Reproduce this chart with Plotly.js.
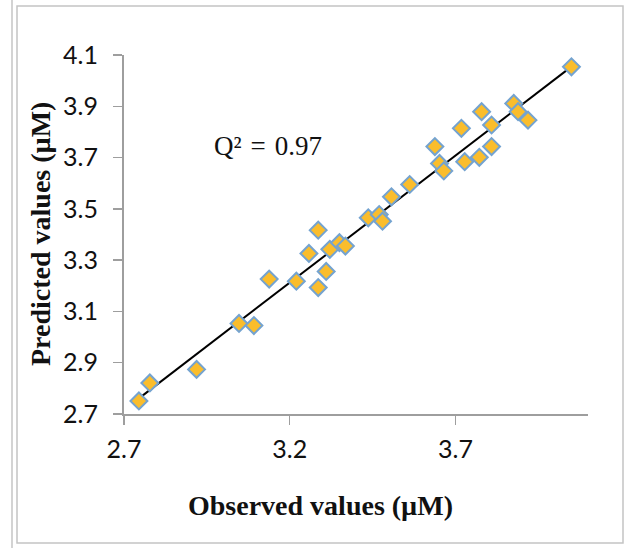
<!DOCTYPE html>
<html><head><meta charset="utf-8">
<script src="https://cdn.plot.ly/plotly-3.0.1.min.js"></script>
<style>html,body{margin:0;padding:0;background:#fff}</style>
</head><body><div id="chart" style="width:627px;height:548px"></div>
<script>
// Observed vs predicted values (µM)
const observed  = [2.745, 2.778, 2.919, 3.047, 3.092, 3.138, 3.220, 3.286, 3.310, 3.258, 3.286,
                   3.321, 3.350, 3.368, 3.437, 3.470, 3.480, 3.507, 3.562, 3.638, 3.652, 3.665,
                   3.718, 3.728, 3.772, 3.779, 3.809, 3.809, 3.876, 3.889, 3.919, 4.050];
const predicted = [2.751, 2.821, 2.874, 3.053, 3.045, 3.226, 3.218, 3.193, 3.256, 3.326, 3.417,
                   3.342, 3.368, 3.355, 3.465, 3.478, 3.452, 3.547, 3.595, 3.743, 3.677, 3.648,
                   3.814, 3.684, 3.701, 3.879, 3.827, 3.743, 3.911, 3.879, 3.846, 4.054];
const xTickVals = [2.7, 3.2, 3.7];
const xTickText = ['2.7', '3.2', '3.7'];
const yTickVals = [2.7, 2.9, 3.1, 3.3, 3.5, 3.7, 3.9, 4.1];
const yTickText = ['2.7', '2.9', '3.1', '3.3', '3.5', '3.7', '3.9', '4.1'];
const statText = 'Q\u00B2\u2004=\u20040.97';
const xTitle = 'Observed values (µM)';
const yTitle = 'Predicted values (µM)';

// linear trendline (least squares) over the observed range
const n = observed.length;
const mx = observed.reduce((a, b) => a + b, 0) / n;
const my = predicted.reduce((a, b) => a + b, 0) / n;
let sxy = 0, sxx = 0;
for (let i = 0; i < n; i++) { sxy += (observed[i] - mx) * (predicted[i] - my); sxx += (observed[i] - mx) ** 2; }
const slope = sxy / sxx, intercept = my - slope * mx;
const xMin = Math.min(...observed), xMax = Math.max(...observed);
const trendX = [xMin, xMax];
const trendY = trendX.map(v => intercept + slope * v);

const axisColor = '#9e9e9e';
const tickFont = {family: 'Lato, "Liberation Sans", sans-serif', size: 25, color: '#111'};
const titleFont = {family: '"Liberation Serif", "Times New Roman", serif', size: 28, color: '#111'};

const traces = [
  {x: trendX, y: trendY, type: 'scatter', mode: 'lines',
   line: {color: '#000', width: 2}, hoverinfo: 'skip', showlegend: false},
  {x: observed, y: predicted, type: 'scatter', mode: 'markers',
   marker: {symbol: 'diamond', size: 13, color: '#FABD2C', line: {color: '#74A3D0', width: 2}},
   showlegend: false}
];

const layout = {
  width: 627, height: 548,
  margin: {l: 124, r: 39, t: 55, b: 134},
  paper_bgcolor: '#fff', plot_bgcolor: '#fff',
  showlegend: false,
  xaxis: {range: [2.7, 4.1], tickvals: xTickVals, ticktext: xTickText,
          showgrid: false, zeroline: false, showline: true, linecolor: axisColor, linewidth: 2,
          ticks: 'outside', ticklen: 9, tickwidth: 1.5, tickcolor: axisColor,
          tickfont: tickFont, ticklabelstandoff: 3},
  yaxis: {range: [2.7, 4.1], tickvals: yTickVals, ticktext: yTickText,
          showgrid: false, zeroline: false, showline: true, linecolor: axisColor, linewidth: 2,
          ticks: 'outside', ticklen: 9, tickwidth: 1.5, tickcolor: axisColor,
          tickfont: tickFont, ticklabelstandoff: 10},
  annotations: [
    {xref: 'paper', yref: 'paper', x: (320 - 124) / 464, y: (414 - 505) / 359,
     text: '<b>' + xTitle + '</b>', showarrow: false, font: titleFont,
     xanchor: 'center', yanchor: 'middle'},
    {xref: 'paper', yref: 'paper', x: (40 - 124) / 464, y: (414 - 234) / 359,
     text: '<b>' + yTitle + '</b>', showarrow: false, font: titleFont, textangle: -90,
     xanchor: 'center', yanchor: 'middle'},
    {xref: 'x', yref: 'y', x: 3.134, y: 3.745, text: statText, showarrow: false,
     font: {family: '"Liberation Serif", "Times New Roman", serif', size: 27, color: '#111'},
     xanchor: 'center', yanchor: 'middle'}
  ],
  shapes: [
    {type: 'line', xref: 'paper', yref: 'paper', x0: (12 - 124) / 464, x1: (12 - 124) / 464,
     y0: (414 - 548) / 359, y1: (414 - 0) / 359, line: {color: '#c4c4c4', width: 1.5}},
    {type: 'rect', xref: 'paper', yref: 'paper', x0: (17 - 124) / 464, x1: (623 - 124) / 464,
     y0: (414 - 543) / 359, y1: (414 - 6) / 359, line: {color: '#c4c4c4', width: 1.5}}
  ]
};

Plotly.newPlot('chart', traces, layout, {displayModeBar: false, staticPlot: true});
</script></body></html>
